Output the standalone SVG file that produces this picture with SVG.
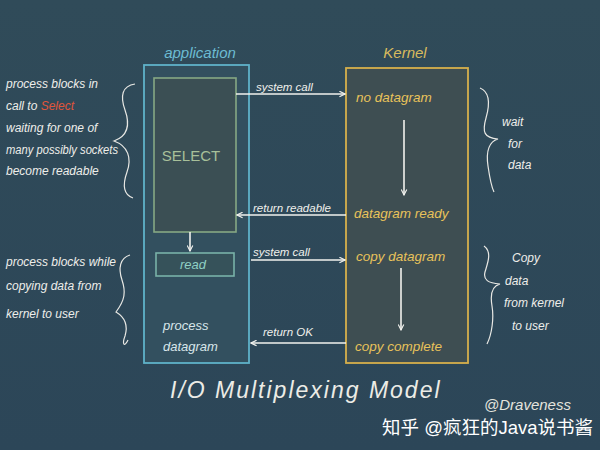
<svg xmlns="http://www.w3.org/2000/svg" width="600" height="450" viewBox="0 0 600 450">
<defs>
<linearGradient id="bg" x1="0" y1="0" x2="0" y2="1">
<stop offset="0" stop-color="#304b59"/>
<stop offset="1" stop-color="#2c4658"/>
</linearGradient>
<marker id="ah" viewBox="0 0 10 10" refX="9" refY="5" markerWidth="7" markerHeight="7" orient="auto-start-reverse" markerUnits="userSpaceOnUse">
<path d="M1,1 L9,5 L1,9" fill="none" stroke="#f2f2ee" stroke-width="1.6"/>
</marker>
<style>
text{font-family:"Liberation Sans","DejaVu Sans",sans-serif;}
.note{fill:#eeeeea;font-size:12px;font-style:italic;}
.app{fill:#d8e6ea;font-size:13px;font-style:italic;}
.ker{fill:#e8c25a;font-size:13.5px;font-style:italic;}
.lbl{fill:#f0f0ec;font-size:11.5px;font-style:italic;}
.ln{stroke:#f2f2ee;stroke-width:1.6;fill:none;}
.brace{stroke:#e8e8e4;stroke-width:1.2;fill:none;}
</style>
</defs>
<rect width="600" height="450" fill="url(#bg)"/>

<g id="application">
<rect x="144" y="65" width="105" height="298" fill="#33505f" stroke="#5fb2c9" stroke-width="1.8"/>
<text x="200" y="58" text-anchor="middle" style="fill:#6cbcd2;font-size:15px;font-style:italic">application</text>
</g>
<g id="select">
<rect x="154" y="78" width="82" height="154" fill="#3b4f54" stroke="#86a884" stroke-width="1.6"/>
<text x="191" y="161" text-anchor="middle" style="fill:#a8c09a;font-size:15px">SELECT</text>
</g>
<g id="read">
<rect x="156" y="253" width="78" height="23" fill="#36525a" stroke="#79b2a8" stroke-width="1.6"/>
<text x="193" y="269" text-anchor="middle" style="fill:#8fd0c4;font-size:13px;font-style:italic">read</text>
</g>
<g id="process-datagram">
<text class="app" x="163" y="330">process</text>
<text class="app" x="163" y="351">datagram</text>
</g>

<g id="kernel">
<rect x="346" y="68" width="122" height="295" fill="#3e4e52" stroke="#d6b04c" stroke-width="1.8"/>
<text x="405" y="58" text-anchor="middle" style="fill:#d9bb5e;font-size:15px;font-style:italic">Kernel</text>
</g>
<g id="no-datagram"><text class="ker" x="356" y="102">no datagram</text></g>
<g id="datagram-ready"><text class="ker" x="354" y="218">datagram ready</text></g>
<g id="copy-datagram"><text class="ker" x="356" y="261">copy datagram</text></g>
<g id="copy-complete"><text class="ker" x="355" y="351">copy complete</text></g>

<g id="connectors">
<line class="ln" x1="236" y1="94" x2="345" y2="94" marker-end="url(#ah)"/>
<text class="lbl" x="256" y="91">system call</text>
<line class="ln" x1="346" y1="215" x2="237" y2="215" marker-end="url(#ah)"/>
<text class="lbl" x="253" y="212">return readable</text>
<line class="ln" x1="251" y1="260" x2="345" y2="260" marker-end="url(#ah)"/>
<text class="lbl" x="253" y="256">system call</text>
<line class="ln" x1="346" y1="343" x2="251" y2="343" marker-end="url(#ah)"/>
<text class="lbl" x="263" y="336">return OK</text>
<line class="ln" x1="404" y1="120" x2="404" y2="195" marker-end="url(#ah)"/>
<line class="ln" x1="401" y1="268" x2="401" y2="330" marker-end="url(#ah)"/>
<line class="ln" x1="190" y1="232" x2="190" y2="251" marker-end="url(#ah)"/>
</g>

<g id="note-select">
<text class="note" x="6" y="88">process blocks in</text>
<text class="note" x="6" y="110">call to <tspan fill="#e0553a">Select</tspan></text>
<text class="note" x="6" y="132">waiting for one of</text>
<text class="note" x="6" y="154" textLength="112" lengthAdjust="spacingAndGlyphs">many possibly sockets</text>
<text class="note" x="6" y="175">become readable</text>
<path class="brace" d="M135,84 C122,86 120,96 125,110 C130,124 128,136 114,141 C128,146 132,158 127,172 C122,186 124,195 133,198"/>
</g>
<g id="note-copy">
<text class="note" x="6" y="266">process blocks while</text>
<text class="note" x="6" y="290">copying data from</text>
<text class="note" x="6" y="318">kernel to user</text>
<path class="brace" d="M130,255 C120,258 118,268 122,280 C126,292 125,300 116,312 C126,318 128,326 125,336 C122,344 124,348 128,340"/>
</g>
<g id="note-wait">
<text class="note" x="502" y="126">wait</text>
<text class="note" x="508" y="148">for</text>
<text class="note" x="508" y="169">data</text>
<path class="brace" d="M480,88 C490,92 490,104 486,118 C482,132 484,138 498,139 C488,142 486,152 488,166 C490,180 492,188 494,192"/>
</g>
<g id="note-copy-kernel">
<text class="note" x="512" y="262">Copy</text>
<text class="note" x="505" y="285">data</text>
<text class="note" x="504" y="307">from kernel</text>
<text class="note" x="512" y="330">to user</text>
<path class="brace" d="M484,246 C492,252 488,262 485,272 C483,280 488,283 500,284 C492,286 490,294 492,306 C494,318 492,334 487,344"/>
</g>

<g id="caption">
<text x="170" y="398" style="fill:#ecece6;font-size:23px;font-style:italic;letter-spacing:2px">I/O Multiplexing Model</text>
<text x="484" y="410" style="fill:#e4e4de;font-size:15px;font-style:italic">@Draveness</text>
<text x="382" y="434" style="fill:#ffffff;font-size:18.5px;font-family:'Liberation Sans','Noto Sans CJK SC',sans-serif">知乎 @疯狂的Java说书酱</text>
</g>
</svg>
